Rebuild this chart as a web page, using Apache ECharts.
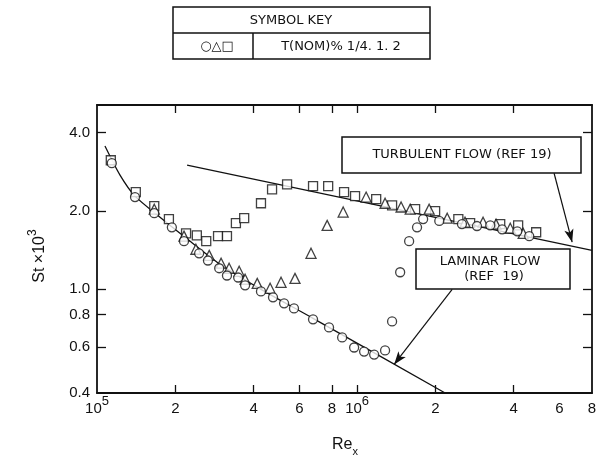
<!DOCTYPE html>
<html><head><meta charset="utf-8">
<script src="https://cdn.jsdelivr.net/npm/echarts@6/dist/echarts.min.js"></script>
<style>html,body{margin:0;padding:0;background:#fff}#c{width:607px;height:459px}</style>
</head><body><div id="c"></div>
<script>
// ---- data (Re_x, St x 10^3) ----
const circleRe = [1.14e5, 1.40e5, 1.66e5, 1.94e5, 2.16e5, 2.47e5, 2.67e5, 2.95e5, 3.16e5, 3.49e5, 3.71e5, 4.27e5, 4.75e5, 5.24e5, 5.72e5, 6.77e5, 7.80e5, 8.76e5, 9.74e5, 1.064e6, 1.163e6, 1.281e6, 1.363e6, 1.464e6, 1.585e6, 1.70e6, 1.794e6, 2.07e6, 2.53e6, 2.89e6, 3.25e6, 3.61e6, 4.13e6, 4.59e6];
const circleSt = [3.05, 2.26, 1.96, 1.73, 1.53, 1.375, 1.29, 1.205, 1.13, 1.11, 1.036, 0.982, 0.932, 0.884, 0.845, 0.767, 0.714, 0.654, 0.598, 0.577, 0.562, 0.583, 0.753, 1.163, 1.53, 1.73, 1.86, 1.83, 1.78, 1.75, 1.76, 1.70, 1.67, 1.60];

const triRe = [1.66e5, 2.16e5, 2.40e5, 2.70e5, 3.00e5, 3.22e5, 3.52e5, 3.71e5, 4.13e5, 4.63e5, 5.10e5, 5.77e5, 6.65e5, 7.67e5, 8.84e5, 1.083e6, 1.281e6, 1.476e6, 1.60e6, 1.892e6, 2.22e6, 2.60e6, 3.05e6, 3.42e6, 3.88e6, 4.35e6];
const triSt = [2.03, 1.60, 1.425, 1.35, 1.26, 1.205, 1.173, 1.093, 1.054, 1.009, 1.064, 1.102, 1.375, 1.76, 1.98, 2.26, 2.14, 2.07, 2.03, 2.03, 1.875, 1.81, 1.81, 1.78, 1.716, 1.64];

const squareRe = [1.13e5, 1.41e5, 1.66e5, 1.89e5, 2.20e5, 2.42e5, 2.63e5, 2.92e5, 3.16e5, 3.42e5, 3.68e5, 4.27e5, 4.71e5, 5.38e5, 6.77e5, 7.74e5, 8.91e5, 9.82e5, 1.184e6, 1.363e6, 1.671e6, 1.995e6, 2.45e6, 2.72e6, 3.55e6, 4.16e6, 4.88e6];
const squareSt = [3.13, 2.36, 2.085, 1.86, 1.64, 1.61, 1.53, 1.60, 1.60, 1.794, 1.875, 2.14, 2.42, 2.53, 2.49, 2.49, 2.36, 2.28, 2.22, 2.10, 2.03, 1.995, 1.86, 1.794, 1.78, 1.76, 1.656];

// reference curves (REF 19)
const laminarRe = [1.073e5, 1.226e5, 1.40e5, 1.747e5, 2.18e5, 2.972e5, 4.27e5, 6.77e5, 2.18e6];
const laminarSt = [3.55, 2.745, 2.279, 1.892, 1.585, 1.248, 1.0, 0.774, 0.4];
const turbulentRe = [2.22e5, 8.0e6];
const turbulentSt = [3.0, 1.41];

// arrows (tail, head)
const turbArrowRe = [5.72e6, 6.71e6];
const turbArrowSt = [2.79, 1.517];
const lamArrowRe = [2.32e6, 1.388e6];
const lamArrowSt = [1.0, 0.515];

// axes
const xMin = 1e5, xMax = 8e6, yMin = 0.4, yMax = 5.1;
const xLabelValues = [1e5, 2e5, 4e5, 6e5, 8e5, 1e6, 2e6, 4e6, 6e6, 8e6];
const xTickValues = [2e5, 4e5, 6e5, 8e5, 1e6, 2e6, 4e6];
const yLabelValues = [0.4, 0.6, 0.8, 1.0, 2.0, 4.0];
const yTickValues = [0.6, 0.8, 1.0, 2.0, 4.0];

const FONT = '"Liberation Sans", Arial, Helvetica, sans-serif';
const BOXFONT = '"DejaVu Sans", sans-serif';
const INK = '#111';

function pairs(xs, ys) { return xs.map((x, i) => [x, ys[i]]); }

function xFmt(v) {
  const e = Math.log10(v);
  const r = Math.round(e);
  if (Math.abs(e - r) < 1e-6) return '{b|10}{s|' + r + '}';
  const m = Math.round(v / Math.pow(10, Math.floor(e + 1e-9)));
  return '{b|' + m + '}';
}

const chart = echarts.init(document.getElementById('c'), null, {renderer: 'canvas'});

const axisLineStyle = {show: true, lineStyle: {color: INK, width: 1.8}};

const option = {
  animation: false,
  backgroundColor: '#fff',
  grid: {left: 97, top: 105, width: 495, height: 288, containLabel: false},
  xAxis: [
    {
      type: 'log', logBase: 10, min: xMin, max: xMax, position: 'bottom',
      axisLine: axisLineStyle,
      axisTick: {show: true, inside: true, length: 8, customValues: xTickValues, lineStyle: {color: INK, width: 1.3}},
      axisLabel: {
        show: true, customValues: xLabelValues, margin: 5, color: INK,
        formatter: xFmt,
        rich: {
          b: {fontSize: 15, fontFamily: FONT, color: INK, lineHeight: 15, padding: [6, 0, 0, 0]},
          s: {fontSize: 13, fontFamily: FONT, color: INK, lineHeight: 13, padding: [0, 0, 8, 0]}
        }
      },
      splitLine: {show: false}, minorTick: {show: false}, minorSplitLine: {show: false}
    },
    {
      type: 'log', logBase: 10, min: xMin, max: xMax, position: 'top',
      axisLine: axisLineStyle,
      axisTick: {show: true, inside: true, length: 8, customValues: xTickValues, lineStyle: {color: INK, width: 1.3}},
      axisLabel: {show: false},
      splitLine: {show: false}
    }
  ],
  yAxis: [
    {
      type: 'log', logBase: 10, min: yMin, max: yMax, position: 'left',
      axisLine: axisLineStyle,
      axisTick: {show: true, inside: true, length: 9, customValues: yTickValues, lineStyle: {color: INK, width: 1.3}},
      axisLabel: {
        show: true, customValues: yLabelValues, margin: 7, color: INK,
        fontSize: 15, fontFamily: FONT,
        formatter: v => Number(v).toFixed(1)
      },
      splitLine: {show: false}, minorTick: {show: false}, minorSplitLine: {show: false}
    },
    {
      type: 'log', logBase: 10, min: yMin, max: yMax, position: 'right',
      axisLine: axisLineStyle,
      axisTick: {show: true, inside: true, length: 9, customValues: yTickValues, lineStyle: {color: INK, width: 1.3}},
      axisLabel: {show: false},
      splitLine: {show: false}
    }
  ],
  series: [
    {
      name: 'laminar', type: 'line', xAxisIndex: 0, yAxisIndex: 0,
      data: pairs(laminarRe, laminarSt), showSymbol: false, symbol: 'none', smooth: 0.25,
      lineStyle: {color: INK, width: 1.3}, z: 2, silent: true
    },
    {
      name: 'turbulent', type: 'line', xAxisIndex: 0, yAxisIndex: 0,
      data: pairs(turbulentRe, turbulentSt), showSymbol: false, symbol: 'none',
      lineStyle: {color: INK, width: 1.3}, z: 2, silent: true,
      markLine: {
        silent: true, symbol: ['none', 'arrow'], symbolSize: [7, 13], animation: false,
        lineStyle: {color: INK, type: 'solid', width: 1.2},
        label: {show: false},
        data: [
          [{coord: [turbArrowRe[0], turbArrowSt[0]]}, {coord: [turbArrowRe[1], turbArrowSt[1]]}],
          [{coord: [lamArrowRe[0], lamArrowSt[0]]}, {coord: [lamArrowRe[1], lamArrowSt[1]]}]
        ]
      }
    },
    {
      name: 'T(NOM) 2', type: 'scatter', data: pairs(squareRe, squareSt), symbol: 'rect', symbolSize: 9,
      itemStyle: {color: '#fff', borderColor: INK, borderWidth: 1.3}, z: 3
    },
    {
      name: 'T(NOM) 1', type: 'scatter', data: pairs(triRe, triSt), symbol: 'triangle', symbolSize: 10,
      itemStyle: {color: '#fff', borderColor: INK, borderWidth: 1.3}, z: 4
    },
    {
      name: 'T(NOM) 1/4', type: 'scatter', data: pairs(circleRe, circleSt), symbol: 'circle', symbolSize: 9,
      itemStyle: {color: '#fff', borderColor: INK, borderWidth: 1.3}, z: 5
    }
  ],
  graphic: [
    // symbol key table
    {type: 'rect', shape: {x: 173, y: 7, width: 257, height: 52}, style: {fill: '#fff', stroke: INK, lineWidth: 1.5}, z: 10},
    {type: 'line', shape: {x1: 173, y1: 33, x2: 430, y2: 33}, style: {stroke: INK, lineWidth: 1.5}, z: 11},
    {type: 'line', shape: {x1: 253, y1: 33, x2: 253, y2: 59}, style: {stroke: INK, lineWidth: 1.5}, z: 11},
    {type: 'text', x: 291, y: 21, z: 12, style: {text: 'SYMBOL KEY', font: '13px ' + BOXFONT, fill: INK, align: 'center', verticalAlign: 'middle'}},
    {type: 'text', x: 217, y: 47, z: 12, style: {text: '○△□', font: '13px ' + BOXFONT, fill: INK, align: 'center', verticalAlign: 'middle'}},
    {type: 'text', x: 341, y: 47, z: 12, style: {text: 'T(NOM)% 1/4. 1. 2', font: '13px ' + BOXFONT, fill: INK, align: 'center', verticalAlign: 'middle'}},
    // turbulent box
    {type: 'rect', shape: {x: 342, y: 137, width: 239, height: 36}, style: {fill: '#fff', stroke: INK, lineWidth: 1.5}, z: 10},
    {type: 'text', x: 462, y: 155, z: 12, style: {text: 'TURBULENT FLOW (REF 19)', font: '13px ' + BOXFONT, fill: INK, align: 'center', verticalAlign: 'middle'}},
    // laminar box
    {type: 'rect', shape: {x: 416, y: 249, width: 154, height: 40}, style: {fill: '#fff', stroke: INK, lineWidth: 1.5}, z: 10},
    {type: 'text', x: 490, y: 262, z: 12, style: {text: 'LAMINAR FLOW', font: '13px ' + BOXFONT, fill: INK, align: 'center', verticalAlign: 'middle'}},
    {type: 'text', x: 494, y: 277, z: 12, style: {text: '(REF  19)', font: '13px ' + BOXFONT, fill: INK, align: 'center', verticalAlign: 'middle'}},
    // axis titles
    {type: 'text', x: 37, y: 256, rotation: Math.PI / 2, z: 12, style: {
      text: '{a|St ×10}{s|3}', align: 'center', verticalAlign: 'middle',
      rich: {
        a: {fontSize: 16, fontFamily: FONT, fill: INK, lineHeight: 16, padding: [5, 0, 0, 0]},
        s: {fontSize: 12, fontFamily: FONT, fill: INK, lineHeight: 12, padding: [0, 0, 9, 0]}
      }
    }},
    {type: 'text', x: 345, y: 447, z: 12, style: {
      text: '{a|Re}{u|x}', align: 'center', verticalAlign: 'middle',
      rich: {
        a: {fontSize: 16, fontFamily: FONT, fill: INK, lineHeight: 16, padding: [0, 0, 4, 0]},
        u: {fontSize: 11, fontFamily: FONT, fill: INK, lineHeight: 11, padding: [9, 0, 0, 0]}
      }
    }}
  ]
};

chart.setOption(option);
</script>
</body></html>
